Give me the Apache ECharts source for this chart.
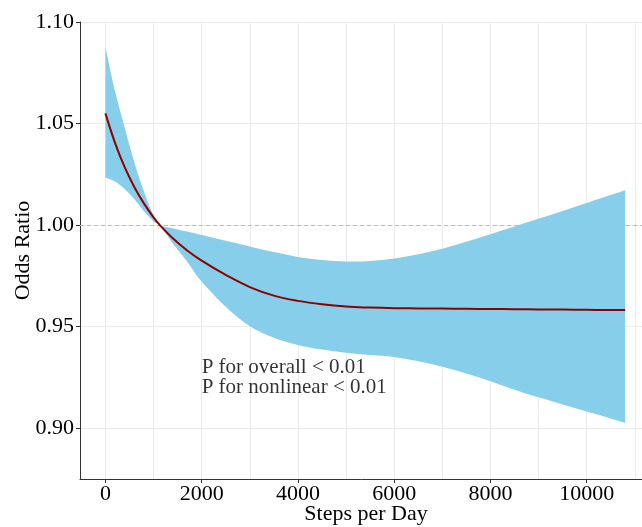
<!DOCTYPE html>
<html>
<head>
<meta charset="utf-8">
<script src="https://cdn.jsdelivr.net/npm/echarts/dist/echarts.min.js"></script>
<style>html,body{margin:0;padding:0;background:#fff}#c{width:642px;height:527px}</style>
</head>
<body>
<div id="c"></div>
<script>
const steps     = [0, 200, 400, 600, 800, 1000, 1130, 1400, 1700, 2000, 2500, 3000, 3500, 4000, 4500, 5000, 5500, 6000, 6500, 7000, 7500, 8000, 8500, 9000, 9500, 10000, 10500, 10800];
const oddsRatio = [1.055, 1.0405, 1.0285, 1.0188, 1.0107, 1.0038, 1.000, 0.9935, 0.9875, 0.9825, 0.9755, 0.9695, 0.9653, 0.9627, 0.961, 0.9599, 0.9594, 0.9591, 0.959, 0.9589, 0.9588, 0.9587, 0.9586, 0.9585, 0.9584, 0.9583, 0.9582, 0.9582];
const upperCI   = [1.0877, 1.066, 1.048, 1.031, 1.0165, 1.0048, 1.000, 0.9985, 0.9968, 0.9951, 0.9923, 0.9895, 0.9867, 0.9843, 0.9828, 0.9821, 0.9823, 0.9836, 0.9856, 0.9884, 0.9918, 0.9955, 0.9993, 1.0031, 1.007, 1.0109, 1.0148, 1.0172];
const lowerCI   = [1.0235, 1.0215, 1.0178, 1.0128, 1.0068, 1.0018, 1.000, 0.991, 0.982, 0.9722, 0.9598, 0.9502, 0.9446, 0.941, 0.9387, 0.9371, 0.936, 0.9351, 0.933, 0.9303, 0.927, 0.9231, 0.919, 0.9152, 0.9117, 0.9082, 0.9048, 0.9026];
const xTickValues = [0, 2000, 4000, 6000, 8000, 10000];
const xGridValues = [0, 1000, 2000, 3000, 4000, 5000, 6000, 7000, 8000, 9000, 10000, 11000];
const yTickValues = [0.90, 0.95, 1.00, 1.05, 1.10];
const refValue = 1.0;
const annotationPos = [2000, 0.925];
const annotationLines = ['P for overall < 0.01', 'P for nonlinear < 0.01'];
const xName = 'Steps per Day';
const yName = 'Odds Ratio';

const FONT = 'Liberation Serif';
const chart = echarts.init(document.getElementById('c'), null, {renderer: 'canvas'});

const lineData = steps.map((s, i) => [s, oddsRatio[i]]);

function curveSegs(pts) {
  let d = '';
  for (let i = 0; i < pts.length - 1; i++) {
    const p0 = pts[i - 1] || pts[i], p1 = pts[i], p2 = pts[i + 1], p3 = pts[i + 2] || pts[i + 1];
    const c1 = [p1[0] + (p2[0] - p0[0]) / 6, p1[1] + (p2[1] - p0[1]) / 6];
    const c2 = [p2[0] - (p3[0] - p1[0]) / 6, p2[1] - (p3[1] - p1[1]) / 6];
    d += ' C' + c1[0] + ' ' + c1[1] + ' ' + c2[0] + ' ' + c2[1] + ' ' + p2[0] + ' ' + p2[1];
  }
  return d;
}

chart.setOption({
  animation: false,
  backgroundColor: '#fff',
  grid: {left: 80, top: 22, bottom: 48, right: -10, containLabel: false, outerBoundsMode: 'none'},
  xAxis: {
    type: 'value', min: -528, max: 11358,
    name: xName, nameLocation: 'middle', nameGap: 24, nameMoveOverlap: false,
    nameTextStyle: {fontFamily: FONT, fontSize: 22, color: '#000'},
    axisLine: {show: true, onZero: false, lineStyle: {color: '#333', width: 1}},
    axisTick: {show: true, length: 4, lineStyle: {color: '#333'}, customValues: xTickValues},
    axisLabel: {fontFamily: FONT, fontSize: 22, color: '#000', margin: 4, customValues: xTickValues,
      formatter: v => String(v)},
    splitLine: {show: false}
  },
  yAxis: {
    type: 'value', min: 0.875, max: 1.10, interval: 0.025,
    name: yName, nameLocation: 'middle', nameGap: 46, nameMoveOverlap: false,
    nameTextStyle: {fontFamily: FONT, fontSize: 22, color: '#000'},
    axisLine: {show: true, onZero: false, lineStyle: {color: '#333', width: 1}},
    axisTick: {show: true, length: 4, lineStyle: {color: '#333'}, customValues: yTickValues},
    axisLabel: {fontFamily: FONT, fontSize: 22, color: '#000', margin: 6, customValues: yTickValues,
      formatter: v => v.toFixed(2)},
    splitLine: {show: true, lineStyle: {color: '#EBEBEB', width: 1}}
  },
  series: [
    {
      type: 'line', z: 1, silent: true, symbol: 'none',
      data: [[steps[0], refValue]],
      lineStyle: {opacity: 0},
      markLine: {
        z: 1, silent: true, symbol: 'none', animation: false,
        label: {show: false},
        lineStyle: {color: '#EBEBEB', width: 1, type: 'solid'},
        data: xGridValues.map(v => ({xAxis: v}))
      }
    },
    {
      type: 'custom', z: 2, silent: true, coordinateSystem: 'cartesian2d', clip: true,
      data: [[steps[0], upperCI[0]]],
      renderItem: (params, api) => {
        const up = steps.map((s, i) => api.coord([s, upperCI[i]]));
        const lo = steps.map((s, i) => api.coord([s, lowerCI[i]])).reverse();
        const d = 'M' + up[0][0] + ' ' + up[0][1] + curveSegs(up) +
          ' L' + lo[0][0] + ' ' + lo[0][1] + curveSegs(lo) + ' Z';
        return {type: 'path', shape: {pathData: d}, style: {fill: '#87CEEB', stroke: null}};
      }
    },
    {
      type: 'line', z: 3, symbol: 'none', silent: true,
      data: [[steps[0], refValue]], lineStyle: {opacity: 0},
      markLine: {
        z: 3, silent: true, symbol: 'none', animation: false,
        label: {show: false},
        lineStyle: {color: '#BDBDBD', width: 1, type: [4, 3]},
        data: [{yAxis: refValue}]
      }
    },
    {
      type: 'line', z: 4, symbol: 'none', smooth: 0.4, silent: true,
      data: lineData, lineStyle: {color: '#8B0000', width: 2}
    },
    {
      type: 'scatter', z: 5, symbolSize: 0, silent: true,
      data: [annotationPos],
      label: {
        show: true, position: 'right', distance: 0,
        formatter: annotationLines.join('\n'),
        fontFamily: FONT, fontSize: 21, lineHeight: 20, color: '#000', align: 'left'
      }
    }
  ]
});
</script>
</body>
</html>
